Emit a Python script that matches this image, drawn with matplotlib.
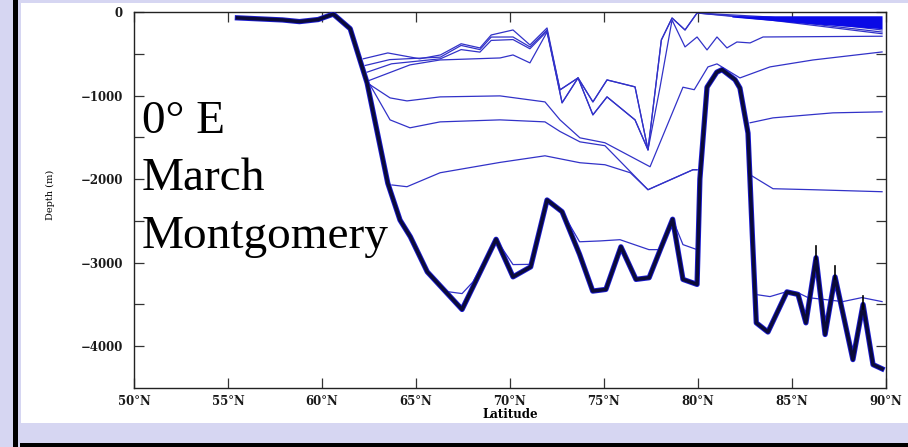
import numpy as np
import matplotlib
matplotlib.use("Agg")
import matplotlib.pyplot as plt
from matplotlib.patches import Rectangle

nan = np.nan

# bathymetry along 0 E
bot_lat = [55.5, 57.9, 58.8, 59.8, 60.6, 61.5, 62.4, 63.5, 64.15, 64.7, 65.6, 67.45,
           69.26, 70.16, 71.1, 71.97, 72.77, 73.7, 74.4, 75.1, 75.9, 76.7, 77.4, 78.0,
           78.65, 79.2, 79.95, 80.1, 80.48, 81.0, 81.28, 81.97, 82.23, 82.66, 82.9, 83.1,
           83.72, 84.73, 85.32, 85.74, 86.28, 86.76, 87.29, 88.24, 88.78, 89.31, 89.79]
bot_dep = [-70, -95, -115, -90, -25, -200, -850, -2050, -2490, -2690, -3110, -3560,
           -2720, -3170, -3050, -2250, -2390, -2900, -3340, -3320, -2810, -3200, -3180, -2840,
           -2480, -3200, -3260, -2000, -900, -720, -690, -810, -910, -1450, -2720, -3720,
           -3830, -3350, -3380, -3720, -2940, -3860, -3170, -4160, -3500, -4220, -4270]
spike_lat = [86.28, 87.29, 88.78]
spike_dep = [-2800, -3040, -3400]

# isopycnal depths (Montgomery)
iso1_lat = [65.6, 66.65, 67.45, 68.03, 69.26, 70.16, 71.12, 71.97, 72.77, 73.7, 74.79, 75.85,
            77.39, 77.98, 78.65, 79.2, 79.95, nan, 83.1, 83.83, 84.73, 85.3, 85.85, 87.7, 88.72, 89.79]
iso1_dep = [-3110, -3346, -3370, -3230, -2720, -3023, -3020, -2250, -2390, -2750, -2740, -2725,
            -2844, -2844, -2480, -2784, -2844, nan, -3382, -3406, -3346, -3358, -3418, -3466, -3418, -3466]

iso2_lat = [63.72, 64.52, 66.28, 69.47, 71.86, 73.72, 75.05, 76.4, 77.34, 79.73, 79.95, nan,
            82.77, 83.99, 86.12, 89.79]
iso2_dep = [-2070, -2091, -1924, -1800, -1721, -1804, -1828, -1924, -2127, -1888, -1888, nan,
            -1948, -2115, -2127, -2151]

iso3_lat = [62.55, 63.62, 64.52, 66.28, 69.47, 71.86, 72.66, 73.72, 75.05, 77.45, 79.2, 79.8,
            80.53, 81.01, 82.23, 83.83, 86.12, 89.79]
iso3_dep = [-870, -1028, -1064, -1016, -1004, -1076, -1291, -1506, -1565, -1852, -900, -930,
            -657, -621, -789, -657, -574, -478]

iso4_lat = [62.55, 63.62, 64.68, 66.28, 69.47, 71.86, 72.66, 73.72, 75.05, 77.34, 79.73, 79.95, nan,
            82.77, 83.99, 87.18, 89.79]
iso4_dep = [-870, -1291, -1386, -1315, -1291, -1315, -1430, -1554, -1600, -2127, -1888, -1888, nan,
            -1326, -1267, -1207, -1195]

iso5_lat = [62.5, 64.68, 66.28, 69.47, 70.16, 71.06, 71.97, 72.77, 73.62, 74.41, 75.16, 76.65, 77.34]
iso5_dep = [-820, -633, -574, -550, -514, -609, -240, -1087, -789, -1231, -1016, -1291, -1649]

isoA_lat = [62.2, 63.5, 65.2, 66.3, 67.4, 68.4, 69.0, 70.16, 71.06, 71.97, 72.66, 73.62, 74.41,
            75.16, 76.65, 77.34, 78.05, 78.62, 79.31, 79.95, 83.83, 89.79]
isoA_dep = [-560, -490, -560, -514, -380, -430, -275, -215, -394, -191, -932, -789, -1076,
            -813, -896, -1649, -335, -72, -215, -12, -60, -215]

isoB_lat = [62.3, 63.6, 66.3, 67.4, 68.4, 69.0, 70.16, 71.06, 71.97, 72.77, 73.62, 74.41, 75.16,
            76.65, 77.34, 77.98, 78.62, 79.31, 79.95, 80.48, 81.01, 81.54, 82.07, 82.77, 83.46, 89.79]
isoB_dep = [-640, -570, -540, -400, -450, -300, -299, -418, -215, -1087, -789, -1231, -1016,
            -1291, -1649, -900, -96, -418, -299, -454, -299, -430, -359, -370, -299, -290]

isoC_lat = [62.4, 63.7, 66.3, 67.4, 68.4, 69.0, 70.16, 71.06, 71.97, 72.66, 73.62, 74.41, 75.16,
            76.65, 77.34, 78.05, 78.62, 79.31, 79.95, 83.83, 89.79]
isoC_dep = [-720, -620, -560, -450, -480, -340, -330, -440, -230, -932, -789, -1076, -813,
            -896, -1649, -335, -72, -215, -12, -96, -260]

isoD_lat = [79.95, 83.83, 89.79]
isoD_dep = [-12, -84, -240]

wedge_lat = [81.8, 85.4, 89.79]
wedge_top = [-45, -45, -45]
wedge_bot = [-60, -130, -200]

xticks = [50, 55, 60, 65, 70, 75, 80, 85, 90]
xticklabels = ["50°N", "55°N", "60°N", "65°N", "70°N", "75°N", "80°N", "85°N", "90°N"]
yticks = [0, -1000, -2000, -3000, -4000]
yticklabels = ["0", "\u22121000", "\u22122000", "\u22123000", "\u22124000"]

W, H = 908, 447
fig = plt.figure(figsize=(W / 100, H / 100), dpi=100)
fig.patch.set_facecolor("#d6d6f2")

# white panel and black frame bars
fig.add_artist(Rectangle((21 / W, 1 - 423 / H), (W - 21) / W, (423 - 3) / H,
                         transform=fig.transFigure, facecolor="white", edgecolor="none", zorder=0))
fig.add_artist(Rectangle((13 / W, 0), 5 / W, 1, transform=fig.transFigure,
                         facecolor="black", edgecolor="none", zorder=0))
fig.add_artist(Rectangle((20 / W, 0), (W - 20) / W, 4 / H, transform=fig.transFigure,
                         facecolor="black", edgecolor="none", zorder=0))

ax = fig.add_axes([134 / W, (H - 388) / H, (886 - 134) / W, (388 - 12) / H])
ax.set_facecolor("white")

thin = dict(color="#3232c8", lw=0.9, zorder=2)
for la, de in [(iso1_lat, iso1_dep), (iso2_lat, iso2_dep), (iso3_lat, iso3_dep),
               (iso4_lat, iso4_dep), (iso5_lat, iso5_dep), (isoA_lat, isoA_dep),
               (isoB_lat, isoB_dep), (isoC_lat, isoC_dep), (isoD_lat, isoD_dep)]:
    ax.plot(la, de, **thin)
ax.fill_between(wedge_lat, wedge_bot, wedge_top, color="#0a0ae6", lw=0, zorder=2)

ax.plot(bot_lat, bot_dep, color="#1a1ad0", lw=3.8, zorder=3, solid_joinstyle="round")
ax.plot(bot_lat, bot_dep, color="#0b0b3a", lw=2.5, zorder=4, solid_joinstyle="round")
for la, de in zip(spike_lat, spike_dep):
    ax.plot([la, la], [de, de - 160], color="black", lw=1.2, zorder=4)

ax.set_xlim(50, 90)
ax.set_ylim(-4500, 0)
ax.set_xticks(xticks)
ax.set_xticklabels(xticklabels)
ax.set_yticks(yticks)
ax.set_yticklabels(yticklabels)
ax.set_yticks([-500, -1500, -2500, -3500], minor=True)

for lab in ax.get_xticklabels() + ax.get_yticklabels():
    lab.set_fontfamily("DejaVu Serif")
    lab.set_fontweight("bold")
    lab.set_fontsize(8.5)
    lab.set_color("#1a1a1a")
ax.tick_params(which="both", direction="in", top=True, right=True, length=7, width=0.9,
               colors="#333333")
ax.tick_params(axis="x", pad=5)
ax.tick_params(axis="y", pad=8)
for lab in ax.get_xticklabels() + ax.get_yticklabels():
    lab.set_color("#1a1a1a")
for s in ax.spines.values():
    s.set_linewidth(1.0)
    s.set_color("#222222")

ax.set_xlabel("Latitude", fontfamily="DejaVu Serif", fontweight="bold", fontsize=8.5, labelpad=0)
fig.text(50 / W, 1 - 195 / H, "Depth (m)", rotation=90, ha="center", va="center",
         fontfamily="DejaVu Serif", fontsize=7)

big = dict(fontfamily="Liberation Serif", fontsize=34, color="black", ha="left", va="baseline")
fig.text(142 / W, 1 - 133 / H, "0° E", **big)
fig.text(142 / W, 1 - 190 / H, "March", **big)
fig.text(142 / W, 1 - 248 / H, "Montgomery", **big)

fig.savefig("out.png", dpi=100, facecolor=fig.get_facecolor())
